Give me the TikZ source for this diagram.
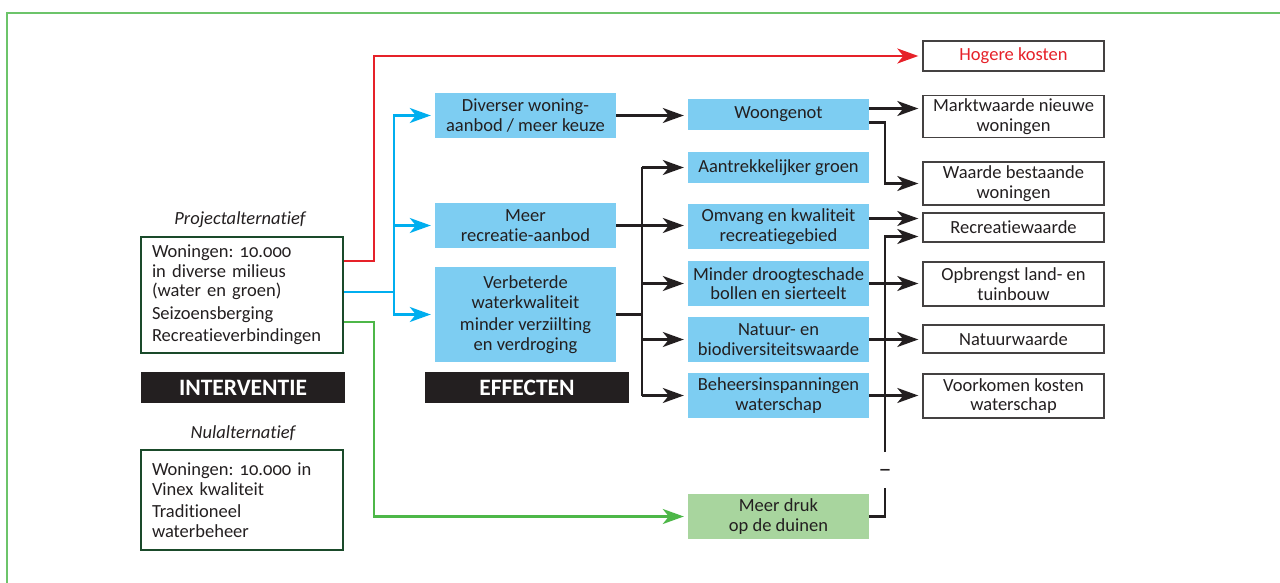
\documentclass[tikz,border=0pt]{standalone}
\usepackage{fontspec}
\setmainfont{Carlito}[Numbers=OldStyle, Ligatures=NoCommon]
\usetikzlibrary{arrows.meta}
\definecolor{bfill}{HTML}{7DCDF2}
\definecolor{cline}{HTML}{00AEEF}
\definecolor{rline}{HTML}{E62129}
\definecolor{gline}{HTML}{4DB748}
\definecolor{gfill}{HTML}{A8D59E}
\definecolor{dgreen}{HTML}{1A4A2A}
\definecolor{ink}{HTML}{231F20}
\definecolor{frameg}{HTML}{6CC46A}
\frenchspacing
\begin{document}
\begin{tikzpicture}[x=1pt,y=-1pt,
  every node/.style={text=ink, font=\fontsize{18.5}{19.5}\selectfont},
  effbox/.style={fill=bfill, minimum width=181pt, inner sep=0pt, align=center},
  resbox/.style={draw=ink!85, line width=1.4pt, fill=white, minimum width=181pt, inner sep=0pt, align=center},
  altbox/.style={draw=dgreen, line width=2.4pt, text width=180pt, inner xsep=11pt, inner ysep=0pt, align=left},
  blackbar/.style={fill=ink, text=white, inner sep=0pt, minimum height=31pt, font=\fontsize{23.5}{26}\selectfont\bfseries},
  alabel/.style={font=\fontsize{18.5}{20}\selectfont\itshape},
  tip/.style={-{Stealth[length=21pt,width=15pt,inset=6pt]}},
  conn/.style={line width=2.5pt, draw=ink, shorten >=4pt, tip},
  plain/.style={line width=2.5pt, draw=ink}
]
\useasboundingbox (0,0) rectangle (1280,583);
% outer frame
\draw[frameg, line width=2pt] (7,583) -- (7,13) -- (1280,13);

% left column
\node[alabel] (plab) at (240,220) {Projectalternatief};
\node[altbox, minimum height=116pt] (proj) at (242,295) {Woningen: 10.000\\in diverse milieus\\(water en groen)\\[3pt]Seizoensberging\\[3pt]Recreatieverbindingen};
\node[blackbar, minimum width=204pt] (interv) at (243,387.5) {INTERVENTIE};
\node[alabel] (nlab) at (243,433) {Nulalternatief};
\node[altbox, minimum height=100pt] (nul) at (242,500) {Woningen: 10.000 in\\Vinex kwaliteit\\[3pt]Traditioneel\\waterbeheer};

% effects column
\node[effbox, minimum height=45pt] (div) at (525.5,115.5) {Diverser woning-\\aanbod / meer keuze};
\node[effbox, minimum height=45pt] (rec) at (525.5,225.5) {Meer\\recreatie-aanbod};
\node[effbox, minimum height=95pt] (ver) at (525.5,314.5) {Verbeterde\\waterkwaliteit\\[3pt]minder verziilting\\en verdroging};
\node[blackbar, minimum width=204pt] (eff) at (527,387.5) {EFFECTEN};

% middle column
\node[effbox, minimum height=31pt] (woon) at (778.5,114.5) {Woongenot};
\node[effbox, minimum height=31pt] (groen) at (778.5,167.5) {Aantrekkelijker groen};
\node[effbox, minimum height=45pt] (omv) at (778.5,226.5) {Omvang en kwaliteit\\recreatiegebied};
\node[effbox, minimum height=45pt] (droog) at (778.5,283.5) {Minder droogteschade\\bollen en sierteelt};
\node[effbox, minimum height=45pt] (nat) at (778.5,339.5) {Natuur- en\\biodiversiteitswaarde};
\node[effbox, minimum height=45pt] (beh) at (778.5,395.5) {Beheersinspanningen\\waterschap};
\node[effbox, fill=gfill, minimum height=45pt] (druk) at (778.5,516.5) {Meer druk\\op de duinen};

% right column
\node[resbox, minimum height=30pt, text=rline] (hog) at (1013.5,56) {Hogere kosten};
\node[resbox, minimum height=42pt] (markt) at (1013.5,116.5) {Marktwaarde nieuwe\\woningen};
\node[resbox, minimum height=43pt] (waarde) at (1013.5,183.5) {Waarde bestaande\\woningen};
\node[resbox, minimum height=29pt] (recw) at (1013.5,227.5) {Recreatiewaarde};
\node[resbox, minimum height=44pt] (opbr) at (1013.5,284) {Opbrengst land- en\\tuinbouw};
\node[resbox, minimum height=28pt] (natw) at (1013.5,339) {Natuurwaarde};
\node[resbox, minimum height=44pt] (voork) at (1013.5,396) {Voorkomen kosten\\waterschap};

% coloured connectors from project alternative
\draw[line width=2.5pt, rline, shorten >=4pt, tip] ([yshift=34pt]proj.east) -- ++(30,0) |- (hog.west);
\draw[line width=2.5pt, cline] ([yshift=3pt]proj.east) -- ++(50,0) coordinate (bj);
\draw[line width=2.5pt, cline, shorten >=4pt, tip] (bj) |- (div.west);
\draw[line width=2.5pt, cline, shorten >=4pt, tip] (bj) |- (rec.west);
\draw[line width=2.5pt, cline, shorten >=4pt, tip] (bj) |- (ver.west);
\draw[line width=2.5pt, gline, shorten >=4pt, tip] ([yshift=-27pt]proj.east) -- ++(30,0) |- (druk.west);

% effects -> middle
\coordinate (vb) at (642,0);
\draw[conn] (div.east) -- (div.east -| woon.west);
\draw[conn] (rec.east) -- (rec.east -| omv.west);
\draw[plain] (ver.east) -- (ver.east -| vb);
\draw[plain] (vb |- groen.west) -- (vb |- beh.west);
\draw[conn] (vb |- groen.west) -- (groen.west);
\draw[conn] (vb |- droog.west) -- (droog.west);
\draw[conn] (vb |- nat.west) -- (nat.west);
\draw[conn] (vb |- beh.west) -- (beh.west);

% middle -> right
\coordinate (vr) at (885,0);
\draw[conn] ([yshift=6pt]woon.east) -- ([yshift=6pt]woon.east -| markt.west);
\draw[conn] ([yshift=-8pt]woon.east) -| (vr |- waarde.west) -- (waarde.west);
\draw[conn] ([yshift=9pt]recw.west -| omv.east) -- ([yshift=9pt]recw.west);
\draw[conn] (droog.east) -- (droog.east -| opbr.west);
\draw[conn] (nat.east) -- (nat.east -| natw.west);
\draw[conn] (beh.east) -- (beh.east -| voork.west);

% pressure on dunes -> recreation value (negative)
\draw[plain] (druk.east) -- (druk.east -| vr) -- ++(0,-28.5);
\node[inner sep=0pt, font=\fontsize{26}{26}\selectfont] (minus) at (885,473) {–};
\coordinate (gaptop) at (885,452);
\draw[conn] (gaptop) |- ([yshift=-9pt]recw.west);
\end{tikzpicture}
\end{document}
